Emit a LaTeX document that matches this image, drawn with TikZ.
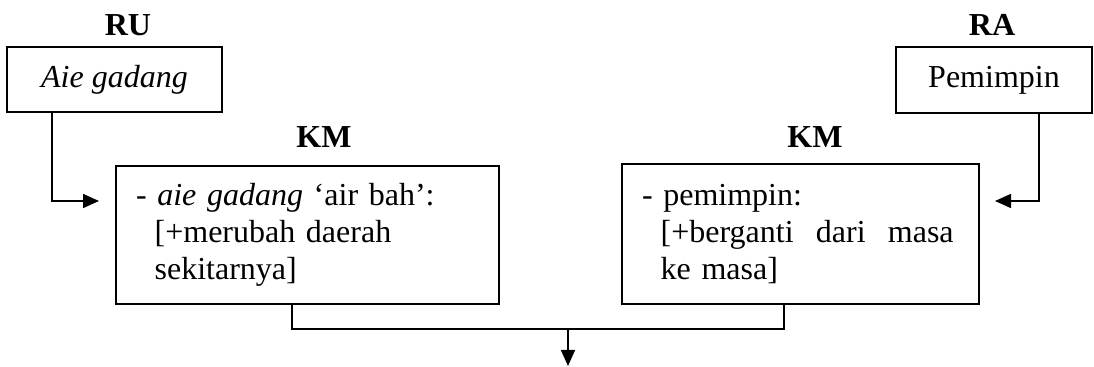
\documentclass[tikz,border=0pt]{standalone}
\usepackage{fontspec}
\setmainfont{Liberation Serif}
\usetikzlibrary{arrows.meta}

\begin{document}
\begin{tikzpicture}[x=0.5pt,y=-0.5pt,
    font=\fontsize{16}{18.5}\selectfont,
    box/.style={shape=rectangle,draw,line width=0.8pt,inner sep=0pt},
    kmbox/.style={box,align=left,inner xsep=10pt},
    head/.style={font=\fontsize{16}{18.5}\selectfont\bfseries},
    arr/.style={line width=0.8pt,-{Triangle[length=8pt,width=7pt]}}]
  \useasboundingbox (0,0) rectangle (1094,367);

  % source words
  \node[head] (RU) at (128,25) {RU};
  \node[head] (RA) at (992,25) {RA};
  \node[box,minimum width=107.5pt,minimum height=32.5pt] (ru) at (114.5,79.5) {\itshape Aie gadang};
  \node[box,minimum width=98pt,minimum height=33pt] (ra) at (994,80) {Pemimpin};

  % meaning components
  \node[head] (KML) at (324,137.5) {KM};
  \node[head] (KMR) at (815,137.5) {KM};
  \node[kmbox,text width=171.5pt,minimum height=69pt] (kml) at (307.5,235)
    {- \textit{aie gadang} ‘air bah’:\\\hspace*{9.33pt}[+merubah daerah\\\hspace*{9.33pt}sekitarnya]};
  \node[kmbox,text width=158.5pt,minimum height=70pt] (kmr) at (800.5,234)
    {- pemimpin:\\\hspace*{9.33pt}\hbox to 146.5pt{[+berganti\hfill dari\hfill masa}\\\hspace*{9.33pt}ke masa]};

  \coordinate (ruTurn) at (52,201);  \coordinate (ruIn) at (99,201);
  \coordinate (raTurn) at (1039,201); \coordinate (raIn) at (995,201);
  \draw[arr] (ru.south -| ruTurn) |- (ruIn);
  \draw[arr] (ra.south -| raTurn) |- (raIn);

  % joining line below both boxes
  \coordinate (joinL) at (292,329);
  \coordinate (joinR) at (784,329);
  \coordinate (split) at (568,329);
  \coordinate (out) at (568,366);
  \draw[line width=0.8pt] (kml.south -| joinL) -- (joinL) -- (joinR) -- (kmr.south -| joinR);
  \draw[arr] (split) -- (out);
\end{tikzpicture}
\end{document}
